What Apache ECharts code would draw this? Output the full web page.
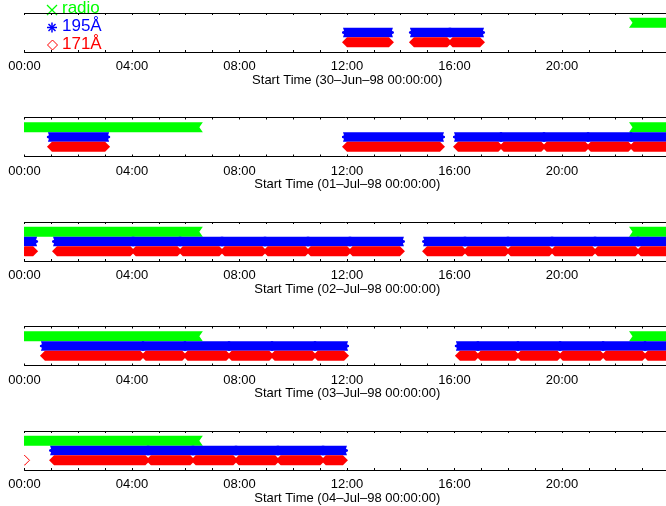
<!DOCTYPE html>
<html>
<head>
<meta charset="utf-8">
<style>
  html, body { margin: 0; padding: 0; background: #fff; }
  #chart { width: 666px; height: 506px; }
</style>
<script src="https://cdn.jsdelivr.net/npm/echarts@6/dist/echarts.min.js"></script>
</head>
<body>
<div id="chart"></div>
<script>
// Observation coverage per day, in hours from the start of each day: [start, end]
const timeTicks = ['00:00', '04:00', '08:00', '12:00', '16:00', '20:00'];
const startDates = ['30–Jun–98', '01–Jul–98', '02–Jul–98', '03–Jul–98', '04–Jul–98'];

const radioRuns = [
  [[22.68, 24.3]],
  [[0, 6.45], [22.68, 24.3]],
  [[0, 6.45], [22.68, 24.3]],
  [[0, 6.45], [22.68, 24.3]],
  [[0, 6.45]]
];

const euv195Runs = [
  [[12.0, 13.56], [14.49, 15.73], [15.93, 16.95]],
  [[1.02, 3.0], [12.0, 15.46], [16.13, 17.63], [17.83, 19.23], [19.43, 20.87], [21.07, 22.47], [22.67, 24.3]],
  [[0, 0.32], [1.21, 3.94], [4.14, 5.69], [5.89, 7.25], [7.45, 8.85], [9.05, 10.45], [10.65, 12.01],
   [12.21, 13.97], [14.98, 16.29], [16.49, 17.89], [18.09, 19.53], [19.73, 21.13], [21.33, 22.73], [22.93, 24.3]],
  [[0.76, 4.31], [4.51, 5.87], [6.07, 7.51], [7.71, 9.11], [9.31, 10.71], [10.91, 11.89],
   [16.2, 16.77], [16.97, 18.26], [18.46, 19.83], [20.03, 21.43], [21.63, 22.99], [23.19, 24.3]],
  [[1.1, 4.5], [4.7, 6.17], [6.37, 7.77], [7.97, 9.33], [9.53, 11.01], [11.21, 11.85]]
];

const euv171Runs = [
  [[12.0, 13.56], [14.49, 15.73], [15.93, 16.95]],
  [[1.02, 3.0], [12.0, 15.46], [16.13, 17.63], [17.83, 19.23], [19.43, 20.87], [21.07, 22.47], [22.67, 24.3]],
  [[0, 0.32], [1.21, 3.94], [4.14, 5.69], [5.89, 7.25], [7.45, 8.85], [9.05, 10.45], [10.65, 12.01],
   [12.21, 13.97], [14.98, 16.29], [16.49, 17.89], [18.09, 19.53], [19.73, 21.13], [21.33, 22.73], [22.93, 24.3]],
  [[0.76, 4.31], [4.51, 5.87], [6.07, 7.51], [7.71, 9.11], [9.31, 10.71], [10.91, 11.89],
   [16.2, 16.77], [16.97, 18.26], [18.46, 19.83], [20.03, 21.43], [21.63, 22.99], [23.19, 24.3]],
  [[0, 0], [1.1, 4.5], [4.7, 6.17], [6.37, 7.77], [7.97, 9.33], [9.53, 11.01], [11.21, 11.85]]
];

const instruments = [
  { name: 'radio', row: 3, color: '#00ff00', runs: radioRuns, mark: 'cross' },
  { name: '195Å', row: 2, color: '#0000ff', runs: euv195Runs, mark: 'asterisk' },
  { name: '171Å', row: 1, color: '#ff0000', runs: euv171Runs, mark: 'diamond' }
];

const FONT = '"Liberation Sans", Helvetica, Arial, sans-serif';
const panelTops = [13, 117.5, 222, 326.5, 431];
const panelHeight = 39;
// the day axis runs past the right edge of the page; this is the last visible hour
const visibleHours = 23.87;

// A run of overlapping plot symbols merges into a band whose ends keep the symbol outline.
function runShape(mark, x0, x1, cy, color) {
  const r = 5;
  if (mark === 'diamond') {
    if (x1 - x0 < 0.5) {
      return {
        type: 'polygon',
        shape: { points: [[x0 - r, cy], [x0, cy - r], [x0 + r, cy], [x0, cy + r]] },
        style: { fill: 'none', stroke: color, lineWidth: 1 }
      };
    }
    return {
      type: 'polygon',
      shape: { points: [[x0 - r, cy], [x0, cy - r], [x1, cy - r], [x1 + r, cy], [x1, cy + r], [x0, cy + r]] },
      style: { fill: color }
    };
  }
  if (mark === 'asterisk') {
    const h = 4.8;
    return {
      type: 'polygon',
      shape: { points: [
        [x0 - 5, cy - 0.8], [x0 - 3, cy - 1.8], [x0 - 4, cy - h], [x1 + 4, cy - h], [x1 + 3, cy - 1.8], [x1 + 5, cy - 0.8],
        [x1 + 5, cy + 0.8], [x1 + 3, cy + 1.8], [x1 + 4, cy + h], [x0 - 4, cy + h], [x0 - 3, cy + 1.8], [x0 - 5, cy + 0.8]
      ] },
      style: { fill: color }
    };
  }
  // cross
  return {
    type: 'polygon',
    shape: { points: [[x0 - r, cy - r], [x1 + r, cy - r], [x1 + 1.5, cy], [x1 + r, cy + r], [x0 - r, cy + r], [x0 - 1.5, cy]] },
    style: { fill: color }
  };
}

const grids = [], xAxes = [], yAxes = [], series = [];

panelTops.forEach(function (top, i) {
  grids.push({ left: 24.5, right: 0, top: top, height: panelHeight });

  const baseAxis = {
    type: 'value', gridIndex: i, min: 0, max: visibleHours, interval: 4,
    splitLine: { show: false },
    axisLine: { show: true, onZero: false, lineStyle: { color: '#000', width: 1 } },
    axisTick: { show: true, inside: true, length: 2, lineStyle: { color: '#000' } },
    minorTick: { show: true, splitNumber: 4, length: 2, lineStyle: { color: '#000' } }
  };
  xAxes.push(Object.assign({}, baseAxis, {
    position: 'bottom',
    axisLabel: {
      show: true, margin: 8, fontSize: 13, fontFamily: FONT, color: '#000',
      showMaxLabel: false,
      formatter: function (v) { return v % 4 === 0 && v < 24 ? timeTicks[v / 4] : ''; }
    },
    name: 'Start Time (' + startDates[i] + ' 00:00:00)',
    nameLocation: 'middle', nameGap: 20,
    nameTextStyle: { fontSize: 13, fontFamily: FONT, color: '#000', padding: [0, 0, 0, 4] }
  }));
  xAxes.push(Object.assign({}, baseAxis, {
    position: 'top',
    axisLabel: { show: false }
  }));
  yAxes.push({ type: 'value', gridIndex: i, min: 0, max: 4, show: false });

  instruments.forEach(function (ins) {
    series.push({
      type: 'custom',
      name: ins.name,
      xAxisIndex: 2 * i,
      yAxisIndex: i,
      clip: true,
      silent: true,
      animation: false,
      data: ins.runs[i].map(function (r) { return [r[0], r[1], ins.row]; }),
      renderItem: function (params, api) {
        const a = api.coord([api.value(0), api.value(2)]);
        const b = api.coord([api.value(1), api.value(2)]);
        return runShape(ins.mark, a[0], b[0], a[1], ins.color);
      }
    });
  });
});

// Key in the upper-left corner
const keyGraphic = [
  { type: 'line', shape: { x1: 47, y1: 5, x2: 57, y2: 15 }, style: { stroke: '#00ff00', lineWidth: 1.2 } },
  { type: 'line', shape: { x1: 47, y1: 15, x2: 57, y2: 5 }, style: { stroke: '#00ff00', lineWidth: 1.2 } },
  { type: 'text', left: 62, top: 0, style: { text: 'radio', fill: '#00ff00', font: '17px ' + FONT } },

  { type: 'line', shape: { x1: 47, y1: 27.5, x2: 57, y2: 27.5 }, style: { stroke: '#0000ff', lineWidth: 1.5 } },
  { type: 'line', shape: { x1: 52, y1: 22.5, x2: 52, y2: 32.5 }, style: { stroke: '#0000ff', lineWidth: 1.5 } },
  { type: 'line', shape: { x1: 48.5, y1: 24, x2: 55.5, y2: 31 }, style: { stroke: '#0000ff', lineWidth: 1.5 } },
  { type: 'line', shape: { x1: 48.5, y1: 31, x2: 55.5, y2: 24 }, style: { stroke: '#0000ff', lineWidth: 1.5 } },
  { type: 'text', left: 62, top: 18, style: { text: '195Å', fill: '#0000ff', font: '17px ' + FONT } },

  { type: 'polygon', shape: { points: [[52.5, 40], [57.5, 45], [52.5, 50], [47.5, 45]] }, style: { fill: 'none', stroke: '#ff0000', lineWidth: 1 } },
  { type: 'text', left: 62, top: 36, style: { text: '171Å', fill: '#ff0000', font: '17px ' + FONT } }
];

const chart = echarts.init(document.getElementById('chart'), null, { renderer: 'canvas' });
chart.setOption({
  animation: false,
  backgroundColor: '#fff',
  grid: grids,
  xAxis: xAxes,
  yAxis: yAxes,
  series: series,
  graphic: keyGraphic
});
</script>
</body>
</html>
